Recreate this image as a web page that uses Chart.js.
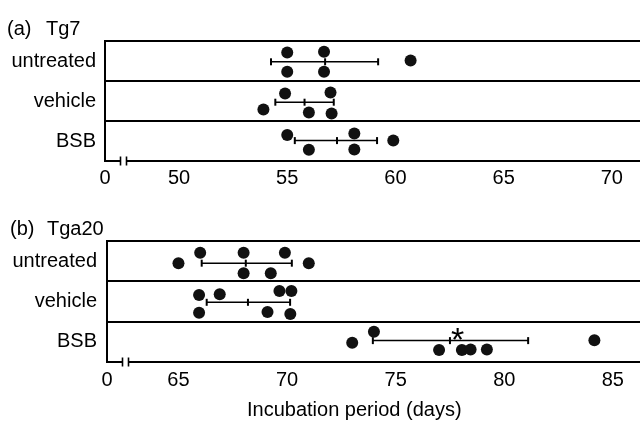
<!DOCTYPE html>
<html><head><meta charset="utf-8">
<script src="https://cdn.jsdelivr.net/npm/chart.js@4.4.0/dist/chart.umd.min.js"></script>
<style>
html,body{margin:0;padding:0;background:#fff;}
#wrap{position:relative;width:640px;height:422px;overflow:hidden;font-family:"Liberation Sans",Arial,sans-serif;color:#000;background:#fff;}
canvas{position:absolute;left:0;}
.t{position:absolute;font-size:20px;line-height:20px;white-space:nowrap;}
</style></head><body>
<div id="wrap">
<canvas id="c1" width="640" height="200" style="top:0;width:640px;height:200px"></canvas>
<canvas id="c2" width="640" height="222" style="top:200px;width:640px;height:222px"></canvas>
<div class="t" style="left:7px;top:18px">(a)</div><div class="t" style="left:46px;top:18px">Tg7</div>
<div class="t" style="left:10px;top:218px">(b)</div><div class="t" style="left:47px;top:218px">Tga20</div>
<div class="t" style="left:247px;top:399px">Incubation period (days)</div>
</div>
<script>
// ---- shared ----
const rowLabels = ['BSB', 'vehicle', 'untreated']; // row 0 (bottom) .. row 2 (top)

// ---- (a) Tg7 ----
const tg7Ticks = [50, 55, 60, 65, 70];
const tg7UntreatedX = [55.0, 56.7, 55.0, 56.7, 60.7];
const tg7UntreatedY = [2.71, 2.73, 2.23, 2.23, 2.51];
const tg7VehicleX = [54.9, 57.0, 53.9, 56.0, 57.05];
const tg7VehicleY = [1.69, 1.71, 1.29, 1.21, 1.19];
const tg7BsbX = [55.0, 58.1, 59.9, 56.0, 58.1];
const tg7BsbY = [0.65, 0.69, 0.51, 0.28, 0.29];
const tg7Mean = [56.75, 55.8, 57.3];   // untreated, vehicle, BSB
const tg7Low = [54.25, 54.45, 55.35];
const tg7High = [59.2, 57.15, 59.15];
const tg7BarY = [2.48, 1.47, 0.51];

// ---- (b) Tga20 ----
const tga20Ticks = [65, 70, 75, 80, 85];
const tga20UntreatedX = [66.0, 68.0, 69.9, 65.0, 71.0, 68.0, 69.25];
const tga20UntreatedY = [2.71, 2.71, 2.71, 2.45, 2.45, 2.2, 2.2];
const tga20VehicleX = [65.95, 66.9, 69.65, 70.2, 65.95, 69.1, 70.15];
const tga20VehicleY = [1.66, 1.68, 1.76, 1.76, 1.22, 1.24, 1.19];
const tga20BsbX = [73.0, 74.0, 77.0, 78.05, 78.45, 79.2, 84.15];
const tga20BsbY = [0.48, 0.75, 0.3, 0.3, 0.31, 0.31, 0.54];
const tga20Mean = [68.1, 68.2, 77.5];
const tga20Low = [66.07, 66.3, 73.95];
const tga20High = [70.22, 70.14, 81.1];
const tga20BarY = [2.45, 1.48, 0.53];
const tga20Star = {x: 77.85, y: 0.69};

const FONT = '"Liberation Sans", Arial, sans-serif';
Chart.defaults.font.family = FONT;
Chart.defaults.font.size = 20;
Chart.defaults.color = '#000';

function pts(xs, ys) { return xs.map((x, i) => ({x: x, y: ys[i]})); }

function dotSet(xs, ys) {
  return {data: pts(xs, ys), showLine: false, pointStyle: 'circle', pointRadius: 6,
    pointBackgroundColor: '#111', pointBorderColor: '#111', pointBorderWidth: 0, order: 1};
}
function barSet(lo, mean, hi, y) {
  return {data: [{x: lo, y: y}, {x: mean, y: y}, {x: hi, y: y}], showLine: true,
    borderColor: '#000', borderWidth: 1.5, pointStyle: 'line', pointRotation: 90,
    pointRadius: 3.5, pointBorderWidth: 2, pointBorderColor: '#000', order: 2};
}

const breakPlugin = {
  id: 'axisBreak',
  afterDraw(chart) {
    const {ctx, chartArea} = chart;
    const l = chartArea.left, b = chartArea.bottom;
    ctx.save();
    ctx.fillStyle = '#fff';
    ctx.fillRect(l + 15.5, b - 2, 6, 4);
    ctx.strokeStyle = '#000';
    ctx.lineWidth = 1.6;
    [15.5, 21.5].forEach(o => {
      ctx.beginPath(); ctx.moveTo(l + o, b - 4.5); ctx.lineTo(l + o, b + 4.5); ctx.stroke();
    });
    ctx.restore();
  }
};

const starPlugin = {
  id: 'starMark',
  afterDatasetsDraw(chart, args, opts) {
    if (!opts || !opts.point) return;
    const {ctx} = chart;
    const px = chart.scales.x.getPixelForValue(opts.point.x);
    const py = chart.scales.y.getPixelForValue(opts.point.y);
    ctx.save();
    ctx.font = '34px ' + FONT;
    ctx.fillStyle = '#000';
    ctx.textAlign = 'center';
    ctx.textBaseline = 'alphabetic';
    const m = ctx.measureText('*');
    const off = (m.actualBoundingBoxDescent - m.actualBoundingBoxAscent) / 2;
    ctx.fillText('*', px, py - off);
    ctx.restore();
  }
};

function makeChart(id, cfg) {
  const datasets = [
    dotSet(cfg.ux, cfg.uy), dotSet(cfg.vx, cfg.vy), dotSet(cfg.bx, cfg.by),
    barSet(cfg.lo[0], cfg.mean[0], cfg.hi[0], cfg.barY[0]),
    barSet(cfg.lo[1], cfg.mean[1], cfg.hi[1], cfg.barY[1]),
    barSet(cfg.lo[2], cfg.mean[2], cfg.hi[2], cfg.barY[2])
  ];
  return new Chart(document.getElementById(id), {
    type: 'scatter',
    data: {datasets: datasets},
    plugins: [breakPlugin, starPlugin],
    options: {
      responsive: false, animation: false,
      layout: {autoPadding: false, padding: {top: 41, left: 0, right: 0, bottom: 0}},
      plugins: {legend: {display: false}, tooltip: {enabled: false}, starMark: {point: cfg.star}},
      scales: {
        x: {
          type: 'linear', min: cfg.min, max: cfg.max,
          afterBuildTicks: s => { s.ticks = [cfg.min].concat(cfg.ticks).map(v => ({value: v})); },
          afterFit: s => { s.height = cfg.axisH; },
          ticks: {autoSkip: false, maxRotation: 0, padding: cfg.tickPad,
            callback: (v, i) => i === 0 ? '0' : String(v)},
          grid: {display: false, drawTicks: false},
          border: {display: true, color: '#000', width: 2}
        },
        y: {
          type: 'linear', min: 0, max: 3,
          afterBuildTicks: s => { s.ticks = [0, 0.5, 1, 1.5, 2, 2.5, 3].map(v => ({value: v})); },
          afterFit: s => { s.width = cfg.yW; },
          ticks: {autoSkip: false, padding: cfg.yPad, callback: v => {
            const k = Math.floor(v);
            return (Math.abs(v - k - 0.5) < 1e-6 && rowLabels[k]) ? rowLabels[k] : '';
          }},
          grid: {drawTicks: false, lineWidth: 2,
            color: c => (c.tick && Math.abs(c.tick.value - Math.round(c.tick.value)) < 1e-6) ? '#000' : 'rgba(0,0,0,0)'},
          border: {display: true, color: '#000', width: 2}
        }
      }
    }
  });
}

makeChart('c1', {
  ux: tg7UntreatedX, uy: tg7UntreatedY, vx: tg7VehicleX, vy: tg7VehicleY, bx: tg7BsbX, by: tg7BsbY,
  mean: tg7Mean, lo: tg7Low, hi: tg7High, barY: tg7BarY, ticks: tg7Ticks,
  min: 46.58, max: 71.3, axisH: 39, tickPad: 5, yW: 105, yPad: 9, star: null
});
makeChart('c2', {
  ux: tga20UntreatedX, uy: tga20UntreatedY, vx: tga20VehicleX, vy: tga20VehicleY, bx: tga20BsbX, by: tga20BsbY,
  mean: tga20Mean, lo: tga20Low, hi: tga20High, barY: tga20BarY, ticks: tga20Ticks,
  min: 61.71, max: 86.25, axisH: 60, tickPad: 6, yW: 107, yPad: 10, star: tga20Star
});
</script>
</body></html>
